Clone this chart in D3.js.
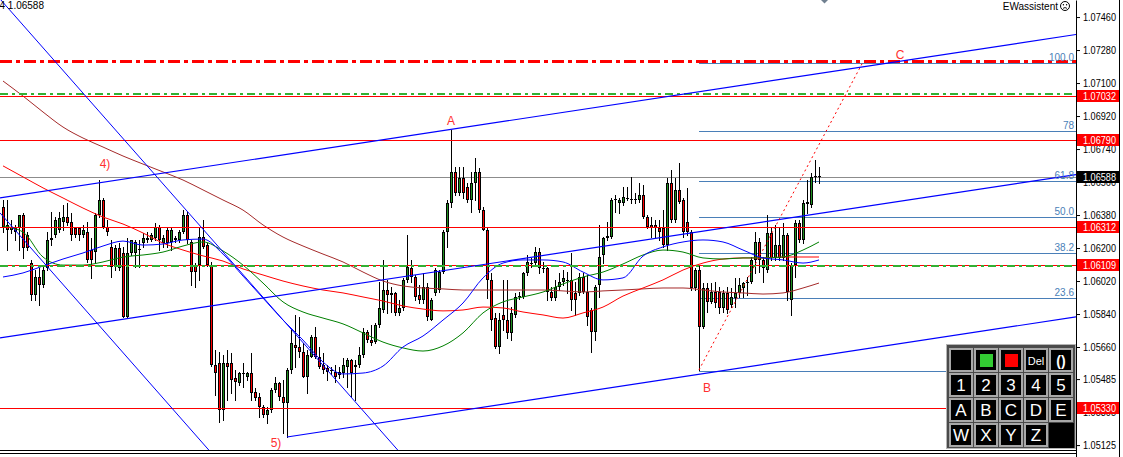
<!DOCTYPE html>
<html><head><meta charset="utf-8">
<script src="https://cdn.jsdelivr.net/npm/d3@7"></script>
<style>body{margin:0;background:#fff;overflow:hidden}svg{display:block}</style>
</head><body><svg id="c" width="1123" height="457"></svg>
<script>
// ---------- DATA ----------
const opens = [
1.06424,1.06326,1.06298,1.06309,1.06309,1.06380,1.06271,1.06118,1.05944,1.06042,
1.05998,1.06091,1.06244,1.06271,1.06298,1.06342,1.06369,1.06342,1.06309,1.06309,
1.06271,1.06287,1.06189,1.06178,1.06380,1.06462,1.06315,1.06206,1.06097,1.06200,
1.06173,1.05824,1.06173,1.06173,1.06189,1.06227,1.06244,1.06244,1.06255,1.06315,
1.06227,1.06298,1.06233,1.06244,1.06244,1.06287,1.06380,1.06233,1.06107,1.06107,
1.06260,1.06216,1.06107,1.05562,1.05573,1.05316,1.05573,1.05573,1.05491,1.05464,
1.05518,1.05496,1.05518,1.05415,1.05387,1.05333,1.05289,1.05316,1.05426,1.05464,
1.05387,1.05355,1.05535,1.05671,1.05660,1.05633,1.05496,1.05606,1.05715,1.05606,
1.05562,1.05546,1.05535,1.05524,1.05507,1.05518,1.05551,1.05589,1.05562,1.05562,
1.05616,1.05742,1.05698,1.05687,1.05780,1.05862,1.05971,1.05955,1.05955,1.05846,
1.05873,1.06026,1.06091,1.06042,1.05944,1.05917,1.05987,1.05807,1.05955,1.05971,
1.06069,1.06287,1.06446,1.06615,1.06500,1.06582,1.06533,1.06462,1.06555,1.06615,
1.06407,1.06298,1.06026,1.05818,1.05660,1.05835,1.05807,1.05736,1.05835,1.05933,
1.05933,1.06064,1.06113,1.06118,1.06178,1.06091,1.06091,1.05960,1.05927,1.05987,
1.06015,1.06026,1.06026,1.05955,1.05955,1.06042,1.05960,1.05862,1.05742,1.05998,
1.06162,1.06255,1.06260,1.06462,1.06446,1.06446,1.06473,1.06462,1.06462,1.06462,
1.06489,1.06369,1.06326,1.06326,1.06309,1.06309,1.06216,1.06555,1.06353,1.06517,
1.06462,1.06342,1.06287,1.05982,1.06080,1.05769,1.05982,1.05906,1.05960,1.05960,
1.05873,1.05955,1.05889,1.05927,1.05955,1.05982,1.06009,1.06015,1.06135,1.06233,
1.06135,1.06080,1.06282,1.06146,1.06216,1.06146,1.06271,1.05917,1.06107,1.06336,
1.06244,1.06451,1.06435,1.06588,1.06593];
const highs = [
1.06462,1.06462,1.06353,1.06326,1.06380,1.06391,1.06287,1.06135,1.06080,1.06091,
1.06107,1.06287,1.06396,1.06369,1.06396,1.06435,1.06446,1.06391,1.06315,1.06315,
1.06326,1.06342,1.06255,1.06391,1.06571,1.06473,1.06353,1.06244,1.06216,1.06227,
1.06206,1.06255,1.06244,1.06244,1.06244,1.06282,1.06287,1.06282,1.06336,1.06326,
1.06271,1.06309,1.06315,1.06266,1.06298,1.06407,1.06396,1.06244,1.06118,1.06309,
1.06353,1.06227,1.06124,1.05644,1.05633,1.05616,1.05644,1.05627,1.05535,1.05524,
1.05573,1.05524,1.05627,1.05436,1.05409,1.05344,1.05333,1.05436,1.05496,1.05469,
1.05480,1.05546,1.05753,1.05835,1.05824,1.05682,1.05644,1.05726,1.05769,1.05660,
1.05627,1.05562,1.05551,1.05562,1.05551,1.05600,1.05600,1.05595,1.05589,1.05660,
1.05764,1.05753,1.05780,1.05791,1.06015,1.06135,1.06026,1.05987,1.05960,1.05917,
1.06037,1.06271,1.06135,1.06053,1.05998,1.06064,1.06009,1.05927,1.06091,1.06080,
1.06298,1.06462,1.06844,1.06642,1.06642,1.06642,1.06555,1.06615,1.06691,1.06637,
1.06424,1.06309,1.06064,1.05846,1.05846,1.06026,1.06026,1.05878,1.05955,1.05960,
1.06069,1.06162,1.06146,1.06206,1.06200,1.06124,1.06097,1.05987,1.06026,1.06064,
1.06080,1.06069,1.06173,1.06015,1.06064,1.06064,1.06053,1.05873,1.05998,1.06326,
1.06260,1.06342,1.06473,1.06489,1.06473,1.06533,1.06533,1.06588,1.06500,1.06555,
1.06544,1.06380,1.06369,1.06353,1.06353,1.06407,1.06582,1.06626,1.06582,1.06664,
1.06473,1.06528,1.06298,1.06091,1.06107,1.06009,1.06009,1.06009,1.06015,1.05987,
1.05971,1.05987,1.05982,1.06037,1.06037,1.06015,1.06042,1.06151,1.06287,1.06255,
1.06151,1.06380,1.06315,1.06326,1.06315,1.06336,1.06282,1.06118,1.06353,1.06353,
1.06462,1.06571,1.06609,1.06680,1.06642];
const lows = [
1.06287,1.06189,1.06282,1.06244,1.06189,1.06146,1.06189,1.05917,1.05917,1.05889,
1.05987,1.06080,1.06216,1.06260,1.06287,1.06298,1.06326,1.06244,1.06260,1.06244,
1.06260,1.06124,1.06037,1.06124,1.06369,1.06309,1.06271,1.06042,1.06080,1.06080,
1.05824,1.05824,1.06162,1.06097,1.06097,1.06206,1.06233,1.06238,1.06244,1.06189,
1.06206,1.06206,1.06189,1.06233,1.06233,1.06282,1.06227,1.05998,1.05987,1.06026,
1.06200,1.06102,1.05556,1.05398,1.05251,1.05262,1.05371,1.05409,1.05371,1.05453,
1.05442,1.05480,1.05371,1.05371,1.05278,1.05278,1.05246,1.05306,1.05415,1.05371,
1.05191,1.05169,1.05518,1.05551,1.05606,1.05496,1.05409,1.05606,1.05600,1.05546,
1.05518,1.05480,1.05513,1.05469,1.05491,1.05496,1.05442,1.05387,1.05371,1.05551,
1.05606,1.05687,1.05671,1.05682,1.05769,1.05851,1.05846,1.05851,1.05835,1.05835,
1.05862,1.06015,1.06015,1.05917,1.05900,1.05900,1.05807,1.05807,1.05944,1.05960,
1.06064,1.06206,1.06424,1.06489,1.06489,1.06473,1.06451,1.06396,1.06462,1.06396,
1.06298,1.05927,1.05753,1.05655,1.05627,1.05753,1.05709,1.05698,1.05824,1.05922,
1.05927,1.06053,1.06097,1.06107,1.06064,1.06069,1.05917,1.05917,1.05917,1.05971,
1.05998,1.05955,1.05862,1.05835,1.05944,1.05955,1.05780,1.05633,1.05698,1.05933,
1.06118,1.06244,1.06255,1.06396,1.06391,1.06435,1.06462,1.06446,1.06446,1.06451,
1.06364,1.06309,1.06260,1.06260,1.06244,1.06206,1.06189,1.06342,1.06342,1.06446,
1.06260,1.06271,1.05971,1.05971,1.05535,1.05764,1.05851,1.05900,1.05878,1.05846,
1.05851,1.05846,1.05878,1.05878,1.05933,1.05933,1.05944,1.06009,1.06064,1.06069,
1.06015,1.06069,1.06135,1.06135,1.06135,1.06135,1.05917,1.05835,1.06042,1.06233,
1.06227,1.06391,1.06424,1.06560,1.06555];
const closes = [
1.06315,1.06298,1.06315,1.06287,1.06380,1.06200,1.06200,1.05944,1.06042,1.05998,
1.06080,1.06244,1.06255,1.06353,1.06364,1.06369,1.06336,1.06271,1.06271,1.06271,
1.06298,1.06135,1.06135,1.06380,1.06462,1.06315,1.06287,1.06097,1.06200,1.06091,
1.05824,1.06173,1.06244,1.06233,1.06195,1.06255,1.06255,1.06271,1.06315,1.06244,
1.06255,1.06227,1.06298,1.06255,1.06287,1.06380,1.06244,1.06069,1.06069,1.06260,
1.06206,1.06107,1.05562,1.05518,1.05316,1.05573,1.05551,1.05480,1.05469,1.05518,
1.05513,1.05518,1.05409,1.05382,1.05333,1.05289,1.05316,1.05426,1.05464,1.05387,
1.05355,1.05535,1.05682,1.05655,1.05633,1.05496,1.05616,1.05715,1.05606,1.05551,
1.05535,1.05524,1.05529,1.05496,1.05524,1.05562,1.05589,1.05518,1.05551,1.05616,
1.05742,1.05698,1.05682,1.05780,1.05873,1.05971,1.05944,1.05944,1.05846,1.05873,
1.06026,1.06097,1.06042,1.05933,1.05917,1.05987,1.05824,1.05917,1.06080,1.06069,
1.06287,1.06446,1.06615,1.06500,1.06582,1.06500,1.06462,1.06555,1.06615,1.06407,
1.06298,1.06026,1.05807,1.05660,1.05807,1.05807,1.05736,1.05846,1.05933,1.05938,
1.06064,1.06124,1.06118,1.06178,1.06091,1.06086,1.05960,1.05927,1.05987,1.06015,
1.06037,1.06020,1.05917,1.05917,1.06042,1.05960,1.05824,1.05742,1.05987,1.06151,
1.06255,1.06266,1.06462,1.06467,1.06462,1.06478,1.06467,1.06467,1.06467,1.06489,
1.06369,1.06315,1.06309,1.06309,1.06287,1.06216,1.06555,1.06353,1.06517,1.06451,
1.06287,1.06287,1.05982,1.06080,1.05769,1.05982,1.05906,1.05960,1.05900,1.05873,
1.05955,1.05862,1.05933,1.05955,1.05998,1.06009,1.06015,1.06135,1.06233,1.06135,
1.06091,1.06282,1.06146,1.06216,1.06146,1.06271,1.05960,1.06107,1.06336,1.06244,
1.06446,1.06440,1.06588,1.06593,1.06588];

// moving averages sampled at candle indices
const maIdx = [0,5,10,15,20,25,30,35,40,45,50,55,60,65,70,75,80,85,90,95,100,105,110,115,120,125,130,135,140,145,150,155,160,165,170,175,180,185,190,195,200,204];
const maBlue = [1.06042,1.06064,1.06102,1.06140,1.06173,1.06211,1.06238,1.06216,1.06222,1.06244,1.06249,1.06167,1.06047,1.05927,1.05807,1.05698,1.05578,1.05513,1.05518,1.05556,1.05660,1.05720,1.05807,1.05900,1.06037,1.06118,1.06135,1.06135,1.06124,1.06069,1.06026,1.06037,1.06156,1.06206,1.06233,1.06244,1.06233,1.06189,1.06146,1.06135,1.06118,1.06135];
const maGreen = [1.06320,1.06287,1.06151,1.06107,1.06107,1.06124,1.06151,1.06162,1.06178,1.06211,1.06233,1.06184,1.06107,1.06009,1.05906,1.05851,1.05818,1.05786,1.05737,1.05687,1.05655,1.05638,1.05666,1.05737,1.05846,1.05906,1.05933,1.05960,1.06004,1.06042,1.06069,1.06113,1.06162,1.06189,1.06178,1.06146,1.06140,1.06146,1.06146,1.06151,1.06189,1.06233];
const maRed = [1.06648,1.06588,1.06528,1.06473,1.06418,1.06369,1.06331,1.06282,1.06227,1.06189,1.06157,1.06129,1.06086,1.06053,1.06020,1.05993,1.05971,1.05955,1.05933,1.05911,1.05884,1.05867,1.05857,1.05862,1.05878,1.05873,1.05851,1.05835,1.05818,1.05846,1.05878,1.05938,1.05982,1.06026,1.06080,1.06118,1.06140,1.06146,1.06146,1.06151,1.06151,1.06151];
const maBrown = [1.07111,1.07029,1.06942,1.06860,1.06800,1.06751,1.06702,1.06658,1.06615,1.06571,1.06517,1.06462,1.06407,1.06326,1.06260,1.06211,1.06167,1.06124,1.06069,1.06020,1.05993,1.05982,1.05977,1.05971,1.05971,1.05971,1.05971,1.05971,1.05966,1.05960,1.05966,1.05971,1.05977,1.05982,1.05982,1.05971,1.05960,1.05955,1.05949,1.05955,1.05982,1.06009];

const axisTicks = [1.07460,1.07280,1.07100,1.06920,1.06740,1.06560,1.06380,1.06200,1.06020,1.05840,1.05660,1.05485,1.05305,1.05125];
const redLevels = [1.07032,1.06790,1.06312,1.06109,1.05330];
const lastPrice = 1.06588;
const cLevel = 1.07220;
const greenLevels = [1.07040,1.06104];
const fibLow = 1.05529, fibHigh = 1.07209, fibStart = 174;
const fibLevels = [0,23.6,38.2,50,61.8,78,100];
const fibLabels = ["","23.6","38.2","50.0","61.8","78","100.0"];
// trend lines: [index, price] anchor pairs
const upperChannel = [[0,1.06476],[204,1.07152]];
const midChannel   = [[0,1.05712],[204,1.06388]];
const lowerChannel = [[71,1.05169],[204,1.05611]];
const downLine1    = [[0,1.07540],[98,1.05115]];
const downLine2    = [[0,1.06373],[50,1.05134]];
const bcLine       = [[174,1.05535],[215,1.07215]];
const waveLabels = [{t:"4)",i:25.5,p:1.06660},{t:"A",i:112,p:1.06893},{t:"B",i:176,p:1.05436},{t:"C",i:224.25,p:1.07253},{t:"5)",i:68.25,p:1.05136}];
const panelRows = [["","G","R","Del","()"],["1","2","3","4","5"],["A","B","C","D","E"],["W","X","Y","Z",null]];

// ---------- DRAW ----------
const W=1123,H=457,plotR=1076;
const svg=d3.select('#c');
const x=d3.scaleLinear().domain([0,204]).range([3,819]);
const y=d3.scaleLinear().domain([1.05060,1.07553]).range([457,0]);
const FONT='"Liberation Sans", Arial, sans-serif';

svg.append('defs').append('clipPath').attr('id','clip').append('rect').attr('x',0).attr('y',0).attr('width',plotR).attr('height',451);
const back=svg.append('g').attr('clip-path','url(#clip)');
const mid=svg.append('g').attr('clip-path','url(#clip)');
const front=svg.append('g').attr('clip-path','url(#clip)');

function hline(g,p,color,w,dash,x1){
  const yy = w%2===1 ? Math.round(y(p))+0.5 : Math.round(y(p));
  const l=g.append('line').attr('x1',x1||0).attr('x2',plotR).attr('y1',yy).attr('y2',yy)
    .attr('stroke',color).attr('stroke-width',w).attr('shape-rendering','crispEdges');
  if(dash) l.attr('stroke-dasharray',dash);
}
// fib lines
const fibP = l => fibLow + (fibHigh-fibLow)*l/100;
fibLevels.forEach((l,k)=>{
  hline(back,fibP(l),'#4a7fb8',1,null,x(fibStart));
});
// current price line
hline(back,lastPrice,'#8c8c8c',1);

// candles
const cg=mid.append('g');
opens.forEach((o,i)=>{
  const cx=Math.round(x(i));
  cg.append('line').attr('x1',cx+0.5).attr('x2',cx+0.5)
    .attr('y1',Math.round(y(highs[i]))).attr('y2',Math.round(y(lows[i]))+1)
    .attr('stroke','#000').attr('stroke-width',1);
  const yo=Math.round(y(o)), yc=Math.round(y(closes[i]));
  const top=Math.min(yo,yc), h=Math.abs(yo-yc);
  if(h<2){
    cg.append('line').attr('x1',cx-1).attr('x2',cx+2).attr('y1',top+0.5).attr('y2',top+0.5)
      .attr('stroke','#000').attr('stroke-width',1);
  } else {
    cg.append('rect').attr('x',cx-0.5).attr('y',top+0.5).attr('width',2).attr('height',h-1)
      .attr('fill', closes[i]>=o ? '#1f8f1f' : '#ff0000').attr('stroke','#000').attr('stroke-width',1);
  }
});

// moving averages
const maLine=d3.line().x((d,k)=>x(maIdx[k])).y(d=>y(d)).curve(d3.curveMonotoneX);
[[maBrown,'#a52a2a'],[maRed,'#ff0000'],[maGreen,'#008000'],[maBlue,'#0000ff']].forEach(([arr,col])=>{
  mid.append('path').attr('d',maLine(arr)).attr('fill','none').attr('stroke',col).attr('stroke-width',1);
});

// horizontal levels
redLevels.forEach(p=>hline(front,p,'#ff0000',1));
greenLevels.forEach(p=>hline(front,p,'#33b033',2,'8,4,3,4'));
hline(front,cLevel,'#ff0000',3,'12,4,4,4');

// trend lines
function trend(a,color,ext,dash,w){
  const x1=x(a[0][0]),y1=y(a[0][1]),x2=x(a[1][0]),y2=y(a[1][1]);
  const s=(y2-y1)/(x2-x1);
  let xa=x1, xb=x2;
  if(ext==='both'){xa=0;xb=plotR;}
  if(ext==='right'){xb=plotR;}
  const l=front.append('line').attr('x1',xa).attr('y1',y1+s*(xa-x1)).attr('x2',xb).attr('y2',y1+s*(xb-x1))
    .attr('stroke',color).attr('stroke-width',w||1.2);
  if(dash) l.attr('stroke-dasharray',dash);
}
trend(upperChannel,'#0000ff','both');
trend(midChannel,'#0000ff','both');
trend(lowerChannel,'#0000ff','right');
trend(downLine1,'#0000ff','both',null,1);
trend(downLine2,'#0000ff','both',null,1);
trend(bcLine,'#ff0000','none','2,3',1);

// fib labels
fibLevels.forEach((l,k)=>{
  if(!fibLabels[k]) return;
  front.append('text').attr('x',1074).attr('y',Math.round(y(fibP(l)))-2).attr('text-anchor','end')
    .attr('font-family',FONT).attr('font-size',10).attr('fill','#4a7fb8').text(fibLabels[k]);
});
// wave labels
waveLabels.forEach(d=>{
  front.append('text').attr('x',x(d.i)).attr('y',y(d.p)).attr('text-anchor','middle').attr('dominant-baseline','central')
    .attr('font-family',FONT).attr('font-size',12).attr('fill','#ff3030').text(d.t);
});

// top-left text & EWassistent
svg.append('text').attr('x',44).attr('y',9).attr('text-anchor','end').attr('font-family',FONT).attr('font-size',10).attr('fill','#000').text('1.06604 1.06588');
svg.append('text').attr('x',1058).attr('y',10).attr('text-anchor','end').attr('font-family',FONT).attr('font-size',10).attr('fill','#000').text('EWassistent');
const face=svg.append('g').attr('transform','translate(1065,6)');
face.append('circle').attr('r',4.5).attr('fill','none').attr('stroke','#000').attr('stroke-width',1);
face.append('circle').attr('cx',-1.6).attr('cy',-1.3).attr('r',0.7).attr('fill','#000');
face.append('circle').attr('cx',1.6).attr('cy',-1.3).attr('r',0.7).attr('fill','#000');
face.append('path').attr('d','M-2,2.4 Q0,0.6 2,2.4').attr('fill','none').attr('stroke','#000').attr('stroke-width',0.9);
// shift marker
svg.append('path').attr('d','M821,0 L828,0 L824.5,3.5 Z').attr('fill','#708090');

// axis
const axis=d3.axisRight(y).tickValues(axisTicks).tickFormat(d3.format('.5f')).tickSize(4).tickSizeOuter(0);
const ag=svg.append('g').attr('transform','translate(1076,0)').call(axis);
ag.select('.domain').attr('stroke','#000');
ag.selectAll('.tick line').attr('stroke','#000');
ag.selectAll('.tick text').attr('x',7).attr('font-family',FONT).attr('font-size',10).attr('fill','#000')
  .attr('textLength',33).attr('lengthAdjust','spacingAndGlyphs');
svg.append('line').attr('x1',1119.5).attr('x2',1119.5).attr('y1',0).attr('y2',H).attr('stroke','#000');
svg.append('line').attr('x1',0).attr('x2',1077).attr('y1',450.5).attr('y2',450.5).attr('stroke','#000');
svg.append('line').attr('x1',0).attr('x2',1077).attr('y1',453.5).attr('y2',453.5).attr('stroke','#000');

// price labels
function plabel(p,bg){
  const yy=Math.round(y(p));
  svg.append('rect').attr('x',1077).attr('y',yy-6).attr('width',42).attr('height',12).attr('fill',bg);
  svg.append('text').attr('x',1083).attr('y',yy+4).attr('font-family',FONT).attr('font-size',10).attr('fill','#fff')
    .attr('textLength',33).attr('lengthAdjust','spacingAndGlyphs').text(d3.format('.5f')(p));
}
redLevels.forEach(p=>plabel(p,'#ff0000'));
plabel(lastPrice,'#000');

// button panel
const pg=svg.append('g');
pg.append('rect').attr('x',946.5).attr('y',344.5).attr('width',129).attr('height',104).attr('fill','#4a4a4a').attr('stroke','#b4b4b4');
panelRows.forEach((row,r)=>row.forEach((c,k)=>{
  const bx=949+k*25, by=348+r*25;
  if(c===null){ pg.append('rect').attr('x',bx).attr('y',by).attr('width',25).attr('height',25).attr('fill','#000'); return; }
  pg.append('rect').attr('x',bx+1).attr('y',by+1).attr('width',22).attr('height',22).attr('fill','#000').attr('stroke','#a8a8a8').attr('stroke-width',2);
  if(c==='G'||c==='R'){
    pg.append('rect').attr('x',bx+6).attr('y',by+6).attr('width',13).attr('height',13).attr('fill',c==='G'?'#33cc33':'#ff0000');
  } else if(c!==''){
    const small=c==='Del';
    pg.append('text').attr('x',bx+12).attr('y',by+12.5).attr('text-anchor','middle').attr('dominant-baseline','central')
      .attr('font-family',FONT).attr('font-size',small?11:(c==='()'?14:17)).attr('font-weight',c==='()'?'bold':'normal')
      .attr('fill','#fff').text(c);
  }
}));
</script></body></html>
